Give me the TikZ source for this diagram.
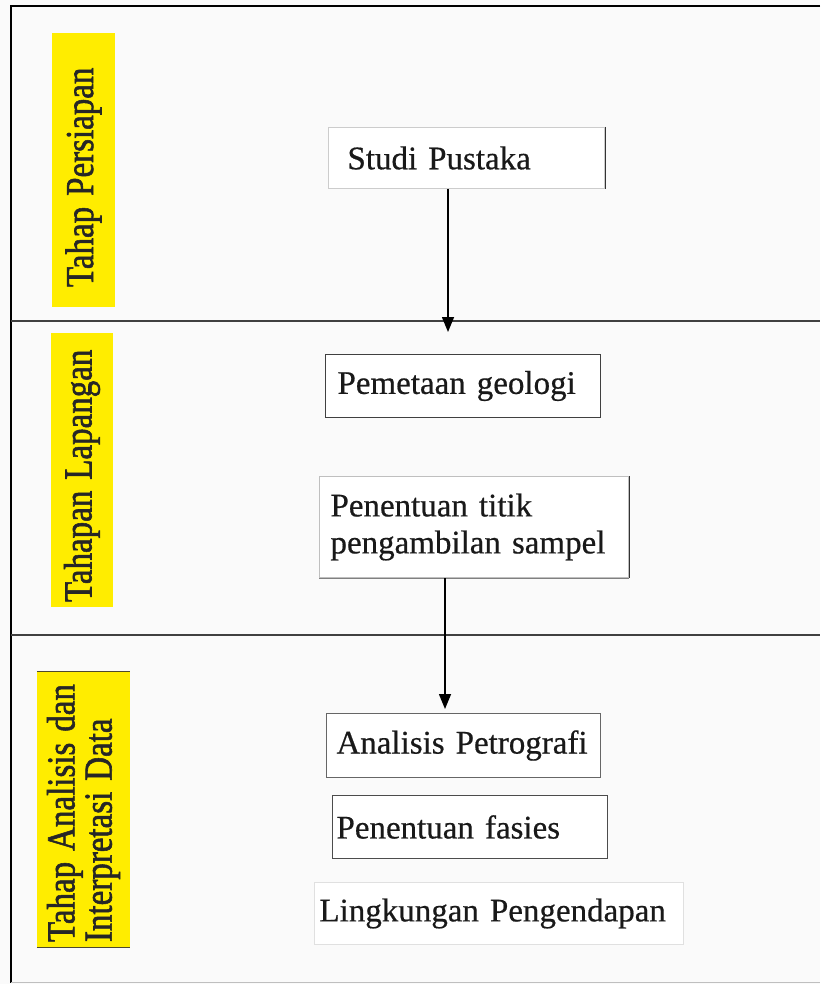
\documentclass[tikz,border=0pt]{standalone}
\usepackage{fontspec}
\setmainfont{Liberation Serif}[BoldFont=Liberation Serif, BoldFeatures={FakeBold=0.5}]
\newfontfamily\phasefont{Liberation Serif}[BoldFont=Liberation Serif, BoldFeatures={FakeBold=1.6}]
\usetikzlibrary{arrows.meta}
\definecolor{phaseyellow}{RGB}{255,237,0}
\definecolor{paper}{RGB}{250,250,250}
\tikzset{
  stepbox/.style={draw, line width=1pt, fill=white, anchor=north west, align=left,
    inner ysep=0pt, text=black!90, font=\bfseries\fontsize{33}{37}\selectfont},
  phase/.style={fill=phaseyellow, rotate=90, yscale=1.2, align=left, inner ysep=0pt,
    text=black!85, font=\phasefont\bfseries\fontsize{33}{31}\selectfont},
  lane/.style={black!75, line width=2pt},
  flow/.style={line width=1.5pt, -{Triangle[length=15pt,width=12pt]}}
}
\begin{document}
\begin{tikzpicture}[x=1pt,y=-1pt]
\fill[paper] (0,0) rectangle (820,984);
\useasboundingbox (0,0) rectangle (820,984);
% frame and lanes
\draw[line width=2.8pt] (820,6) -- (11,6) -- (11,983);
\draw[black!25, line width=1pt] (11,982.5) -- (820,982.5);
\draw[lane] (11,321) -- (820,321);
\draw[lane] (11,635) -- (820,635);

% phase labels
\node[phase, minimum width=274pt, minimum height=52.5pt, inner xsep=20pt, text width=234pt] (ph1) at (83.5,170) {Tahap Persiapan};
\node[phase, minimum width=274pt, minimum height=51.7pt, inner xsep=5pt, text width=264pt] (ph2) at (82,470) {Tahapan Lapangan};
\node[phase, minimum width=275pt, minimum height=77.5pt, inner xsep=5pt, text width=265pt] (ph3) at (83.5,809.5) {Tahap Analisis dan\\Interpretasi Data};
\draw[black!60!olive, line width=1pt] (ph3.north east) -- (ph3.south east);
\draw[black!60!olive, line width=1pt] (ph3.north west) -- (ph3.south west);

% steps
\node[stepbox, draw=black!20, inner xsep=19pt, text width=238pt, minimum height=61pt] (sp) at (328,127) {\mbox{Studi Pustaka}};
\draw[black!80, line width=1pt] (sp.north east) -- (sp.south east);
\node[stepbox, draw=black!75, inner xsep=12pt, text width=251pt, minimum height=63pt] (geo) at (325,354) {\mbox{Pemetaan geologi}};
\node[stepbox, draw=black!25, inner xsep=11pt, text width=287pt, minimum height=101pt] (pen) at (319,476) {\mbox{Penentuan titik}\\\mbox{pengambilan sampel}};
\draw[black!80, line width=1pt] (pen.north east) -- (pen.south east);
\draw[black!50, line width=1pt] (pen.south west) -- (pen.south east);
\node[stepbox, draw=black!60, inner xsep=10pt, text width=254pt, minimum height=64pt] (ana) at (326,713) {\mbox{Analisis Petrografi}};
\node[stepbox, draw=black!70, inner xsep=4pt, text width=267pt, minimum height=63pt] (fas) at (332,795) {\mbox{Penentuan fasies}};
\node[stepbox, draw=black!12, inner xsep=5pt, text width=359pt, minimum height=62pt] (ling) at (314,882) {\mbox{Lingkungan Pengendapan}};

% arrows
\coordinate (a1) at (448,332);
\draw[flow] (sp.south -| a1) -- (a1);
\coordinate (a2) at (445,709);
\draw[flow] (pen.south -| a2) -- (a2);
\end{tikzpicture}
\end{document}
